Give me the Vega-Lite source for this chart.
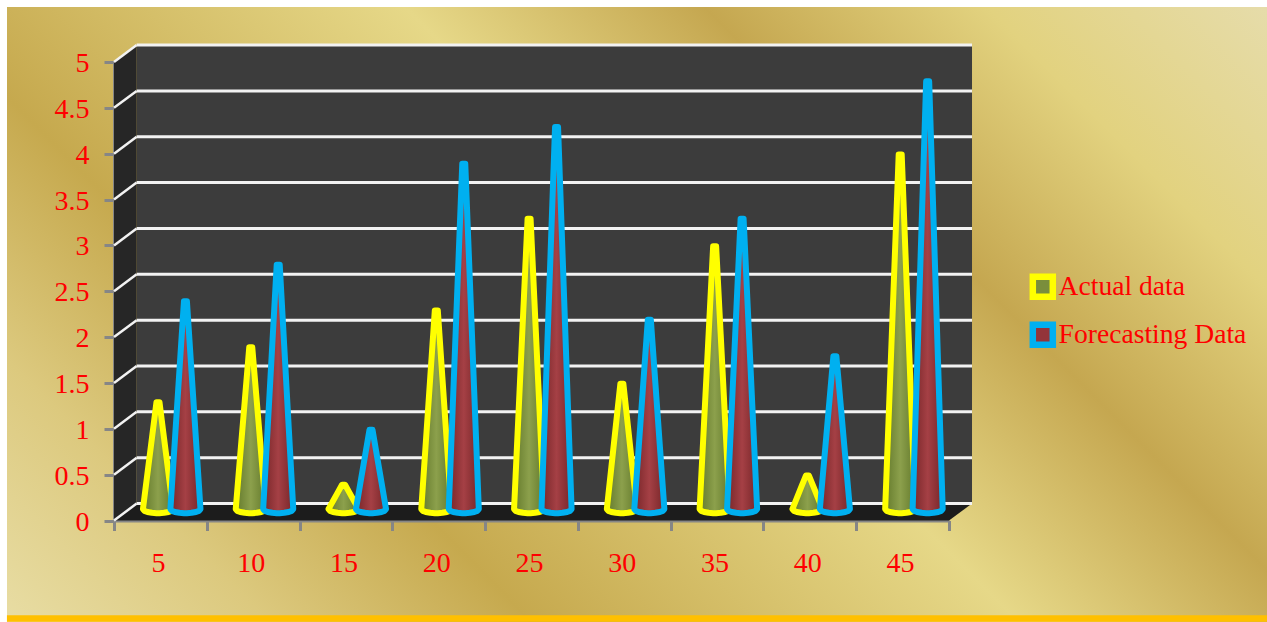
{
  "$schema": "https://vega.github.io/schema/vega-lite/v6.json",
  "autosize": {"type": "none"},
  "padding": {"left": 7, "top": 7, "right": 0, "bottom": 0},
  "width": 1260,
  "height": 615,
  "background": "#ffffff",
  "view": {
    "stroke": null,
    "fill": {
      "gradient": "linear", "x1": -0.101, "y1": 0.793, "x2": 1.101, "y2": 0.207,
      "stops": [
        {"offset": 0, "color": "#e8dda4"},
        {"offset": 0.14, "color": "#dcc97e"},
        {"offset": 0.28, "color": "#c6a94e"},
        {"offset": 0.54, "color": "#e6d888"},
        {"offset": 0.7, "color": "#c5a750"},
        {"offset": 0.85, "color": "#e2d27f"},
        {"offset": 1, "color": "#e6dcaa"}
      ]
    }
  },
  "config": {
    "axis": {
      "labelFont": "Liberation Serif", "labelFontSize": 28, "labelColor": "#ff0000",
      "domainColor": "#868686", "domainWidth": 3, "tickColor": "#868686", "tickWidth": 3,
      "grid": false, "zindex": 1, "title": null
    }
  },
  "datasets": {
    "cones": [
      {"category": 5, "series": "Actual data", "value": 1.2},
      {"category": 10, "series": "Actual data", "value": 1.8},
      {"category": 15, "series": "Actual data", "value": 0.3},
      {"category": 20, "series": "Actual data", "value": 2.2},
      {"category": 25, "series": "Actual data", "value": 3.2},
      {"category": 30, "series": "Actual data", "value": 1.4},
      {"category": 35, "series": "Actual data", "value": 2.9},
      {"category": 40, "series": "Actual data", "value": 0.4},
      {"category": 45, "series": "Actual data", "value": 3.9},
      {"category": 5, "series": "Forecasting Data", "value": 2.3},
      {"category": 10, "series": "Forecasting Data", "value": 2.7},
      {"category": 15, "series": "Forecasting Data", "value": 0.9},
      {"category": 20, "series": "Forecasting Data", "value": 3.8},
      {"category": 25, "series": "Forecasting Data", "value": 4.2},
      {"category": 30, "series": "Forecasting Data", "value": 2.1},
      {"category": 35, "series": "Forecasting Data", "value": 3.2},
      {"category": 40, "series": "Forecasting Data", "value": 1.7},
      {"category": 45, "series": "Forecasting Data", "value": 4.7}
    ],
    "levels": [
      {"level": 0}, {"level": 0.5}, {"level": 1}, {"level": 1.5}, {"level": 2}, {"level": 2.5},
      {"level": 3}, {"level": 3.5}, {"level": 4}, {"level": 4.5}, {"level": 5}
    ],
    "sideWall": [
      {"x": 0, "top": 5, "bottom": 0},
      {"x": 1.22, "top": 5.185, "bottom": 0.185}
    ],
    "floor": [
      {"x": 0, "top": 0, "bottom": 0},
      {"x": 1.22, "top": 0.185, "bottom": 0},
      {"x": 45, "top": 0.185, "bottom": 0},
      {"x": 46.24, "top": 0.185, "bottom": 0.185}
    ]
  },
  "resolve": {"scale": {"x": "independent"}},
  "layer": [
    {
      "data": {"values": [{}]},
      "mark": {"type": "rule", "color": "#ffc000", "strokeWidth": 6.5},
      "encoding": {
        "x": {"datum": -5.77, "type": "quantitative", "axis": null, "scale": {"domain": [0, 45], "range": [107, 942], "nice": false, "zero": false}},
        "x2": {"datum": 62.15},
        "y": {"datum": -1.07, "type": "quantitative", "scale": {"domain": [0, 5], "range": [513.5, 55], "nice": false, "zero": false},
          "axis": {"values": [0, 0.5, 1, 1.5, 2, 2.5, 3, 3.5, 4, 4.5, 5], "format": "~g", "offset": -107, "tickSize": 10, "labelPadding": 15, "labelOffset": 1.5}}
      }
    },
    {
      "data": {"name": "cones"},
      "mark": {"type": "rule", "opacity": 0},
      "encoding": {
        "x": {"field": "category", "type": "ordinal",
          "scale": {"type": "band", "range": [107, 942], "paddingInner": 0, "paddingOuter": 0},
          "axis": {"tickBand": "extent", "labelAngle": 0, "offset": -101.5, "tickSize": 10, "labelPadding": 19, "labelOffset": -2.5}}
      }
    },
    {
      "data": {"values": [{}]},
      "mark": {"type": "rect", "color": "#3c3c3c"},
      "encoding": {
        "x": {"datum": 1.22, "type": "quantitative", "axis": null, "scale": {"domain": [0, 45], "range": [107, 942], "nice": false, "zero": false}},
        "x2": {"datum": 46.24},
        "y": {"datum": 0.185, "type": "quantitative"},
        "y2": {"datum": 5.185}
      }
    },
    {
      "data": {"name": "sideWall"},
      "mark": {"type": "area", "color": "#262626"},
      "encoding": {
        "x": {"field": "x", "type": "quantitative", "axis": null, "scale": {"domain": [0, 45], "range": [107, 942], "nice": false, "zero": false}},
        "y": {"field": "top", "type": "quantitative"},
        "y2": {"field": "bottom"}
      }
    },
    {
      "data": {"name": "floor"},
      "mark": {"type": "area", "color": "#1c1c1c"},
      "encoding": {
        "x": {"field": "x", "type": "quantitative", "axis": null, "scale": {"domain": [0, 45], "range": [107, 942], "nice": false, "zero": false}},
        "y": {"field": "top", "type": "quantitative"},
        "y2": {"field": "bottom"}
      }
    },
    {
      "data": {"name": "levels"},
      "transform": [
        {"calculate": "datum.level + 0.185", "as": "backLevel"}
      ],
      "layer": [
        {
          "mark": {"type": "rule", "color": "#f2f2f2", "strokeWidth": 3},
          "encoding": {
            "x": {"datum": 1.22, "type": "quantitative", "axis": null, "scale": {"domain": [0, 45], "range": [107, 942], "nice": false, "zero": false}},
            "x2": {"datum": 46.24},
            "y": {"field": "backLevel", "type": "quantitative"}
          }
        },
        {
          "mark": {"type": "rule", "color": "#f2f2f2", "strokeWidth": 2.5},
          "encoding": {
            "x": {"datum": 0, "type": "quantitative", "axis": null, "scale": {"domain": [0, 45], "range": [107, 942], "nice": false, "zero": false}},
            "x2": {"datum": 1.22},
            "y": {"field": "level", "type": "quantitative"},
            "y2": {"field": "backLevel"}
          }
        }
      ]
    },
    {
      "data": {"name": "cones"},
      "mark": {"type": "area", "opacity": 0, "strokeWidth": 5},
      "encoding": {
        "x": {"field": "category", "type": "quantitative", "axis": null, "scale": {"domain": [0, 45], "range": [107, 942], "nice": false, "zero": false}},
        "y": {"datum": 0, "type": "quantitative"},
        "fill": {
          "field": "series", "type": "nominal",
          "scale": {"domain": ["Actual data", "Forecasting Data"], "range": ["#7a8e3c", "#93343a"]},
          "legend": {
            "title": null, "orient": "none", "legendX": 1022, "legendY": 266,
            "symbolType": "square", "symbolSize": 400, "symbolStrokeWidth": 6.5, "symbolOpacity": 1,
            "labelFont": "Liberation Serif", "labelFontSize": 27.6, "labelColor": "#ff0000",
            "labelOffset": 2, "rowPadding": 1, "labelLimit": 260
          }
        },
        "stroke": {
          "field": "series", "type": "nominal",
          "scale": {"domain": ["Actual data", "Forecasting Data"], "range": ["#ffff00", "#00b0f0"]},
          "legend": {
            "title": null, "orient": "none", "legendX": 1022, "legendY": 266,
            "symbolType": "square", "symbolSize": 400, "symbolStrokeWidth": 6.5, "symbolOpacity": 1,
            "labelFont": "Liberation Serif", "labelFontSize": 27.6, "labelColor": "#ff0000",
            "labelOffset": 2, "rowPadding": 1, "labelLimit": 260
          }
        }
      }
    },
    {
      "data": {"name": "cones"},
      "transform": [
        {"filter": "datum.series === 'Actual data'"},
        {"calculate": "[-1, -0.9, -0.7, -0.4, -0.1, 0.1, 0.4, 0.7, 0.9, 1]", "as": "v"},
        {"flatten": ["v"]},
        {"calculate": "datum.category - 2.63 + datum.v * 0.81", "as": "across"},
        {"calculate": "(abs(datum.v) - 0.1) / 0.9", "as": "slope"},
        {"calculate": "0.125 * datum.slope + (datum.value + 0.09) * (1 - datum.slope)", "as": "rim"},
        {"calculate": "0.125 - 0.045 * sqrt(1 - datum.v * datum.v)", "as": "foot"}
      ],
      "mark": {
        "type": "area", "strokeWidth": 6, "strokeJoin": "round", "opacity": 1,
        "fill": {"gradient": "linear", "x1": 0, "y1": 0, "x2": 1, "y2": 0, "stops": [
          {"offset": 0, "color": "#647a2c"}, {"offset": 0.5, "color": "#8ca04c"}, {"offset": 1, "color": "#647a2c"}]}
      },
      "encoding": {
        "x": {"field": "across", "type": "quantitative", "axis": null, "scale": {"domain": [0, 45], "range": [107, 942], "nice": false, "zero": false}},
        "y": {"field": "rim", "type": "quantitative", "stack": null},
        "y2": {"field": "foot"},
        "detail": {"field": "category"},
        "stroke": {"field": "series", "type": "nominal", "legend": null}
      }
    },
    {
      "data": {"name": "cones"},
      "transform": [
        {"filter": "datum.series === 'Forecasting Data'"},
        {"calculate": "[-1, -0.9, -0.7, -0.4, -0.1, 0.1, 0.4, 0.7, 0.9, 1]", "as": "v"},
        {"flatten": ["v"]},
        {"calculate": "datum.category - 1.15 + datum.v * 0.81", "as": "across"},
        {"calculate": "(abs(datum.v) - 0.1) / 0.9", "as": "slope"},
        {"calculate": "0.125 * datum.slope + (datum.value + 0.09) * (1 - datum.slope)", "as": "rim"},
        {"calculate": "0.125 - 0.045 * sqrt(1 - datum.v * datum.v)", "as": "foot"}
      ],
      "mark": {
        "type": "area", "strokeWidth": 6, "strokeJoin": "round", "opacity": 1,
        "fill": {"gradient": "linear", "x1": 0, "y1": 0, "x2": 1, "y2": 0, "stops": [
          {"offset": 0, "color": "#772629"}, {"offset": 0.5, "color": "#a54045"}, {"offset": 1, "color": "#772629"}]}
      },
      "encoding": {
        "x": {"field": "across", "type": "quantitative", "axis": null, "scale": {"domain": [0, 45], "range": [107, 942], "nice": false, "zero": false}},
        "y": {"field": "rim", "type": "quantitative", "stack": null},
        "y2": {"field": "foot"},
        "detail": {"field": "category"},
        "stroke": {"field": "series", "type": "nominal", "legend": null}
      }
    }
  ]
}
